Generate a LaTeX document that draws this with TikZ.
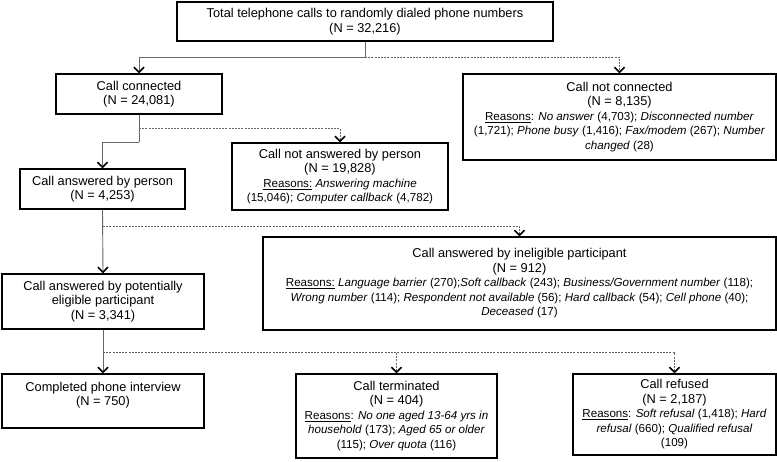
\documentclass[tikz,border=0pt]{standalone}
\usepackage{fontspec}
\setmainfont{Liberation Sans}
\usetikzlibrary{arrows.meta}
\newcommand\rsz{\fontsize{11.6}{14}\selectfont}
\begin{document}
\begin{tikzpicture}[x=1pt,y=-1pt,
  box/.style={draw=black, line width=1.4pt, rectangle, align=center, inner sep=0pt,
    font=\fontsize{12.8}{14.5}\selectfont},
  conn/.style={draw=black!60, line width=0.9pt},
  dconn/.style={conn, dash pattern=on 2pt off 1.2pt},
  tip/.style={-{Straight Barb[color=black, length=5pt, width=10pt, line width=1.6pt]}}]
\useasboundingbox (0,0) rectangle (777,461);
\node[box, minimum width=376pt, minimum height=39pt] (top) at (365,21.5)
  {Total telephone calls to randomly dialed phone numbers\\(N = 32,216)};
\node[box, minimum width=166pt, minimum height=40pt] (cc) at (139,94)
  {Call connected\\(N = 24,081)};
\node[box, minimum width=313pt, minimum height=86pt] (cnc) at (619.5,117)
  {Call not connected\\(N = 8,135)\\\rsz\underline{Reasons}: \textit{No answer} (4,703); \textit{Disconnected number}\\\rsz(1,721); \textit{Phone busy} (1,416); \textit{Fax/modem} (267); \textit{Number}\\\rsz\textit{changed} (28)};
\node[box, minimum width=216pt, minimum height=67pt] (cna) at (340,176.5)
  {Call not answered by person\\(N = 19,828)\\\rsz\underline{Reasons:} \textit{Answering machine}\\\rsz(15,046); \textit{Computer callback} (4,782)};
\node[box, minimum width=165pt, minimum height=40pt] (cap) at (102.5,189)
  {Call answered by person\\(N = 4,253)};
\node[box, minimum width=513pt, minimum height=93pt] (cai) at (519.5,283.5)
  {Call answered by ineligible participant\\(N = 912)\\\rsz\underline{Reasons:} \textit{Language barrier} (270);\textit{Soft callback} (243); \textit{Business/Government number} (118);\\\rsz\textit{Wrong number} (114); \textit{Respondent not available} (56); \textit{Hard callback} (54); \textit{Cell phone} (40);\\\rsz\textit{Deceased} (17)};
\node[box, minimum width=202pt, minimum height=55pt] (cae) at (103,301.5)
  {Call answered by potentially\\eligible participant\\(N = 3,341)};
\node[box, minimum width=202pt, minimum height=54pt] (cpi) at (103,401)
  {Completed phone interview\\(N = 750)\\\mbox{}};
\node[box, minimum width=201pt, minimum height=84pt] (ct) at (396.5,416)
  {Call terminated\\(N = 404)\\\rsz\underline{Reasons}: \textit{No one aged 13-64 yrs in}\\\rsz\textit{household} (173); \textit{Aged 65 or older}\\\rsz(115); \textit{Over quota} (116)};
\node[box, minimum width=203pt, minimum height=81pt] (cr) at (674.5,414.5)
  {Call refused\\(N = 2,187)\\\rsz\underline{Reasons}: \textit{Soft refusal} (1,418); \textit{Hard}\\\rsz\textit{refusal} (660); \textit{Qualified refusal}\\\rsz(109)};
% junctions
\coordinate (j1) at (365,57);
\coordinate (j2) at (139,128);
\coordinate (j3) at (139,142);
\coordinate (j4) at (103,226);
\coordinate (j5) at (103,352);
% connectors
\draw[conn] (top.south) -- (j1);
\draw[conn, tip] (j1) -| (cc.north);
\draw[dconn, tip] (j1) -| (cnc.north);
\draw[conn] (cc.south) -- (j3);
\draw[dconn, tip] (j2) -| (cna.north);
\draw[conn, tip] (j3) -| (cap.north);
\draw[conn, tip] (cap.south) -- (cae.north);
\draw[dconn, tip] (j4) -| (cai.north);
\draw[conn, tip] (cae.south) -- (cpi.north);
\draw[dconn, tip] (j5) -| (ct.north);
\draw[dconn, tip] (j5) -| (cr.north);
\end{tikzpicture}
\end{document}
